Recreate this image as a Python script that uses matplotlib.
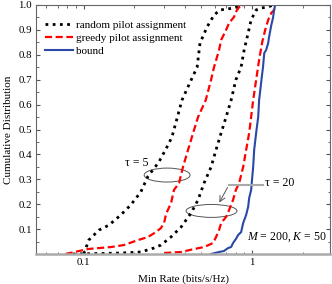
import numpy as np
import matplotlib
matplotlib.use("Agg")
import matplotlib.pyplot as plt
from matplotlib.patches import Ellipse
from matplotlib.ticker import MultipleLocator, NullFormatter

plt.rcParams['font.family'] = ['Liberation Serif', 'DejaVu Serif']
plt.rcParams['mathtext.fontset'] = 'custom'
plt.rcParams['mathtext.rm'] = 'Liberation Serif'
plt.rcParams['mathtext.it'] = 'Liberation Serif:italic'

# random pilot assignment, tau = 5
rand5_x = [0.1, 0.107, 0.123, 0.141, 0.166, 0.19, 0.218, 0.24, 0.279, 0.312, 0.334,
           0.383, 0.428, 0.471, 0.49, 0.54, 0.594, 0.645, 0.78, 0.88]
rand5_y = [0.0, 0.056, 0.096, 0.116, 0.157, 0.197, 0.249, 0.311, 0.369, 0.43, 0.47,
           0.618, 0.69, 0.75, 0.847, 0.912, 0.96, 0.98, 0.988, 1.0]
# random pilot assignment, tau = 20
rand20_x = [0.086, 0.126, 0.166, 0.218, 0.261, 0.287, 0.329, 0.378, 0.434, 0.477, 0.518,
            0.57, 0.61, 0.654, 0.70, 0.75, 0.80, 0.86, 0.896, 0.947, 0.986, 1.056,
            1.13, 1.245, 1.33]
rand20_y = [0.0, 0.002, 0.004, 0.008, 0.024, 0.036, 0.068, 0.108, 0.165, 0.217, 0.285,
            0.349, 0.418, 0.486, 0.55, 0.618, 0.699, 0.751, 0.819, 0.888, 0.94, 0.98,
            0.988, 0.992, 1.0]
# greedy pilot assignment, tau = 5
greedy5_x = [0.078, 0.106, 0.145, 0.173, 0.21, 0.24, 0.268, 0.287, 0.30, 0.308, 0.33,
             0.343, 0.368, 0.388, 0.416, 0.446, 0.477, 0.53, 0.57, 0.594, 0.636, 0.654,
             0.70, 0.73, 0.78, 0.80, 0.837, 0.896]
greedy5_y = [0.0, 0.02, 0.028, 0.036, 0.056, 0.068, 0.088, 0.104, 0.125, 0.161, 0.205,
             0.257, 0.285, 0.349, 0.418, 0.486, 0.55, 0.618, 0.699, 0.751, 0.819, 0.859,
             0.90, 0.928, 0.952, 0.972, 0.992, 1.0]
# greedy pilot assignment, tau = 20
greedy20_x = [0.30, 0.378, 0.452, 0.518, 0.586, 0.61, 0.636, 0.654, 0.70, 0.73, 0.77,
              0.80, 0.837, 0.884, 0.921, 0.96, 0.986, 1.014, 1.056, 1.10, 1.147, 1.195,
              1.245, 1.30, 1.35, 1.37]
greedy20_y = [0.004, 0.008, 0.02, 0.028, 0.044, 0.068, 0.096, 0.124, 0.149, 0.177, 0.217,
              0.257, 0.285, 0.349, 0.418, 0.486, 0.55, 0.618, 0.699, 0.78, 0.85, 0.90,
              0.94, 0.968, 0.98, 1.0]
# bound
bound_x = [0.57, 0.636, 0.68, 0.72, 0.75, 0.77, 0.80, 0.825, 0.86, 0.884, 0.921, 0.947,
           0.96, 0.986, 1.014, 1.028, 1.056, 1.086, 1.10, 1.13, 1.16, 1.18, 1.21, 1.245,
           1.26, 1.30, 1.33, 1.35, 1.37]
bound_y = [0.0, 0.008, 0.012, 0.024, 0.028, 0.044, 0.06, 0.076, 0.088, 0.124, 0.157, 0.19,
           0.225, 0.257, 0.35, 0.418, 0.486, 0.55, 0.618, 0.687, 0.751, 0.807, 0.819, 0.847,
           0.871, 0.92, 0.948, 0.98, 1.0]

fig = plt.figure(figsize=(3.32, 2.84), dpi=100)
ax = fig.add_axes([36/332, 30/284, 294/332, 249/284])

dot_kw = dict(color='black', linestyle=(0, (1, 1.6)), linewidth=2.0)
dash_kw = dict(color='#ff0000', linestyle=(0, (3.2, 1.6)), linewidth=1.6)
ax.plot(rand5_x, rand5_y, label='random pilot assignment', **dot_kw)
ax.plot(rand20_x, rand20_y, **dot_kw)
ax.plot(greedy5_x, greedy5_y, label='greedy pilot assignment', **dash_kw)
ax.plot(greedy20_x, greedy20_y, **dash_kw)
ax.plot(bound_x, bound_y, color='#2a48a6', linewidth=1.5, label='bound')

ax.set_xscale('log')
ax.set_xlim(0.052, 2.9)
ax.set_ylim(0, 1.0)
ax.set_yticks(np.arange(0.1, 1.01, 0.1))
ax.yaxis.set_minor_locator(MultipleLocator(0.05))
ax.set_xticks([0.1, 1])
ax.set_xticklabels(['0.1', '1'])
ax.xaxis.set_minor_formatter(NullFormatter())
ax.tick_params(which='both', direction='in', top=True, right=True, labelsize=7.8,
               colors='#555555', labelcolor='black')
ax.tick_params(which='major', length=3, pad=3)
ax.tick_params(which='minor', length=1.8)
for s in ['top', 'left', 'right']:
    ax.spines[s].set_color('#666666')
    ax.spines[s].set_linewidth(0.8)
ax.spines['bottom'].set_color('#aaaaaa')
ax.spines['bottom'].set_linewidth(1.8)

ax.set_xlabel('Min Rate (bits/s/Hz)', fontsize=8, labelpad=5)
ax.set_ylabel('Cumulative Distribution', fontsize=8, labelpad=4)

ax.legend(loc='upper left', frameon=False, fontsize=8, handlelength=2.5,
          handletextpad=0.3, labelspacing=0.3, borderaxespad=0.4,
          bbox_to_anchor=(0.0, 0.975))

# annotations (axes-fraction coordinates)
ta = ax.transAxes
ax.add_patch(Ellipse((0.446, 0.317), width=0.156, height=0.056, transform=ta,
                     fill=False, edgecolor='#555555', linewidth=0.7))
ax.text(0.344, 0.366, 'τ = 5', fontsize=8.5, ha='center', va='center', transform=ta)
ax.add_patch(Ellipse((0.597, 0.173), width=0.173, height=0.052, transform=ta,
                     fill=False, edgecolor='#555555', linewidth=0.7))
ax.text(0.78, 0.285, 'τ = 20', fontsize=8.5, ha='left', va='center', transform=ta)
ax.plot([0.656, 0.772], [0.277, 0.277], color='#aaaaaa', linewidth=1.5, transform=ta)
ax.annotate('', xy=(0.619, 0.197), xytext=(0.656, 0.277), xycoords=ta, textcoords=ta,
            arrowprops=dict(arrowstyle='->', color='#555555', lw=0.7))
ax.text(0.99, 0.068, r'$M$ = 200, $K$ = 50', fontsize=8.5, ha='right', va='center',
        transform=ta)

fig.savefig('out.png', dpi=100)
